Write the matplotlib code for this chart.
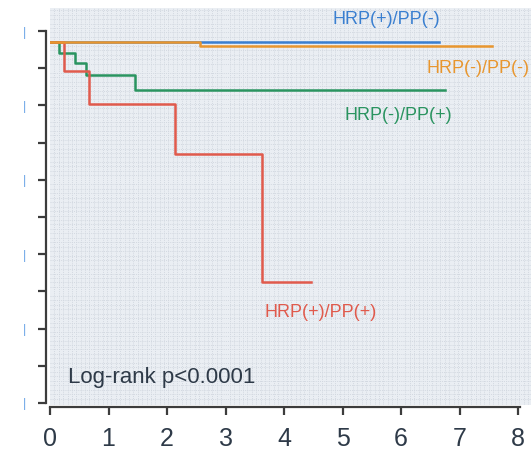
import matplotlib.pyplot as plt
import numpy as np
from matplotlib.ticker import MultipleLocator

# survival curves (time in years, survival in %)
t_pos_neg = [0, 6.65]
s_pos_neg = [97.0, 97.0]

t_neg_neg = [0, 2.56, 7.55]
s_neg_neg = [97.0, 96.0, 96.0]

t_neg_pos = [0, 0.16, 0.43, 0.61, 1.45, 6.76]
s_neg_pos = [97.0, 94.0, 91.5, 88.2, 84.1, 84.1]

t_pos_pos = [0, 0.24, 0.67, 2.14, 3.62, 4.47]
s_pos_pos = [97.0, 89.2, 80.3, 66.9, 32.4, 32.4]

x_ticks = [0, 1, 2, 3, 4, 5, 6, 7, 8]
y_ticks = [0, 10, 20, 30, 40, 50, 60, 70, 80, 90, 100]
y_labels = ['|' if v % 20 == 0 else '' for v in y_ticks]

c_blue = '#3a7fd0'
c_orange = '#e8962e'
c_green = '#2a9460'
c_red = '#e05a4c'
c_text = '#2e3a48'

plt.rcParams['font.family'] = ['Liberation Sans', 'DejaVu Sans']

W, H = 531, 451
fig = plt.figure(figsize=(W / 100, H / 100), dpi=100)
# axes runs past the right edge of the figure
ax = fig.add_axes([50 / W, (H - 405) / H, 500 / W, 397 / H])
ax.set_facecolor('#eaeef3')

ax.set_xlim(0, 500 / 58.5)
ax.set_ylim(-2 / 3.72, 397 / 3.72 - 2 / 3.72)

ax.xaxis.set_minor_locator(MultipleLocator(0.075))
ax.yaxis.set_minor_locator(MultipleLocator(1.2))
ax.grid(which='minor', color='#d2d8e0', linewidth=0.7, linestyle=(0, (1, 1.2)))
ax.grid(which='major', visible=False)
ax.tick_params(which='minor', length=0)

def km(t, s, color, z):
    ax.step(t, s, where='post', color=color, linewidth=1.8, zorder=z)

km(t_pos_neg, s_pos_neg, c_blue, 3)
km(t_neg_neg, s_neg_neg, c_orange, 4)
km(t_neg_pos, s_neg_pos, c_green, 3)
km(t_pos_pos, s_pos_pos, c_red, 3)

fs = 13
ax.text(5.75, 103.2, 'HRP(+)/PP(-)', color=c_blue, fontsize=fs, ha='center', va='center')
ax.text(6.44, 90.0, 'HRP(-)/PP(-)', color=c_orange, fontsize=fs, ha='left', va='center')
ax.text(5.96, 77.4, 'HRP(-)/PP(+)', color=c_green, fontsize=fs, ha='center', va='center')
ax.text(4.63, 24.2, 'HRP(+)/PP(+)', color=c_red, fontsize=fs, ha='center', va='center')
ax.text(0.3, 6.8, 'Log-rank p<0.0001', color=c_text, fontsize=16, ha='left', va='center')

for side in ['top', 'right']:
    ax.spines[side].set_visible(False)
ax.spines['left'].set_position(('outward', 3))
ax.spines['bottom'].set_position(('outward', 1.2))
ax.spines['left'].set_bounds(0, 100)
ax.spines['bottom'].set_bounds(0, 8.03)
for side in ['left', 'bottom']:
    ax.spines[side].set_color('#3c3c3c')
    ax.spines[side].set_linewidth(1.6)

ax.set_xticks(x_ticks)
ax.set_xticklabels([str(v) for v in x_ticks], fontsize=18, color=c_text)
ax.set_yticks(y_ticks)
ax.set_yticklabels(y_labels, fontsize=9, color='#6aa4e6')
ax.tick_params(axis='x', which='major', length=6, width=1.6, color='#3c3c3c', pad=9)
ax.tick_params(axis='y', which='major', length=6, width=1.6, color='#3c3c3c', pad=8)

fig.savefig('out.png', dpi=100)
